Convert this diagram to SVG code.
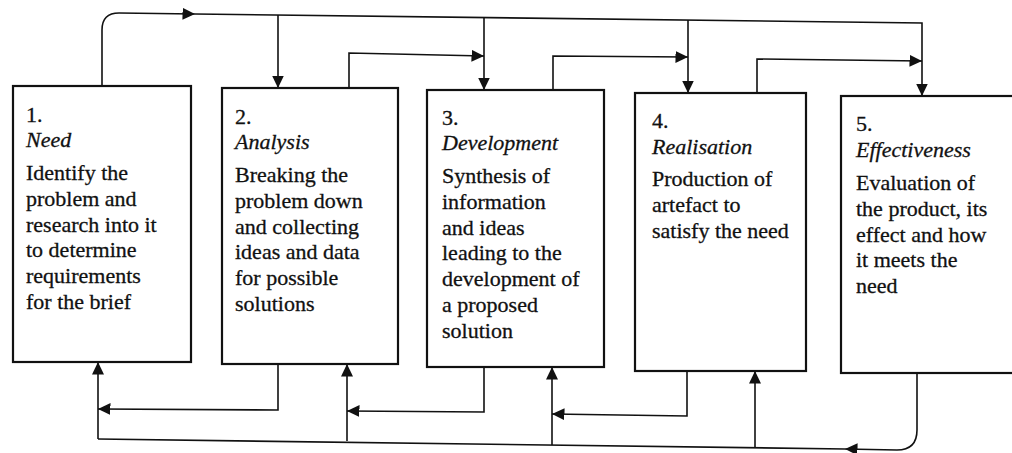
<svg xmlns="http://www.w3.org/2000/svg" width="1012" height="453" viewBox="0 0 1012 453">
<style>
.box{fill:#fff;stroke:#111;stroke-width:2.2}
.c{fill:none;stroke:#111;stroke-width:1.6;marker-end:url(#ah)}
.cn{fill:none;stroke:#111;stroke-width:1.6}
text{font-family:"Liberation Serif","Times New Roman",serif;font-size:22px;fill:#111;stroke:#111;stroke-width:0.3}
.t{font-style:italic}
</style>
<defs>
<marker id="ah" markerUnits="userSpaceOnUse" markerWidth="13" markerHeight="13" refX="12.5" refY="6.5" orient="auto">
<path d="M0,0.5 L12.5,6.5 L0,12.5 z" fill="#111"/>
</marker>
</defs>
<rect width="1012" height="453" fill="#fff"/>
<g id="connectors">
<path class="c" d="M102,86 V30 Q102,13 119,13 L195,14"/>
<path class="c" d="M195,14 L922,23 V96"/>
<path class="c" d="M278,15 V88"/>
<path class="c" d="M484,17.5 V90"/>
<path class="c" d="M688,20 V93"/>
<path class="c" d="M349,88 V53 L484,56"/>
<path class="c" d="M553,90 V56 L688,57"/>
<path class="c" d="M757,93 V59 L922,61"/>
<path class="c" d="M98,439 V362"/>
<path class="c" d="M278,364 V410 L98,409"/>
<path class="c" d="M347,441 V364"/>
<path class="c" d="M484,367 V412 L347,411"/>
<path class="c" d="M552,445 V367"/>
<path class="c" d="M687,371 V416 L552,414"/>
<path class="c" d="M755,447 V371"/>
<path class="c" d="M917,373 V430 Q917,450 897,450 L845,449"/>
<path class="cn" d="M845,449 L98,439"/>
</g>
<g id="node1">
<rect class="box" x="13" y="86" width="178" height="276"/>
<text x="26" y="122">1.</text>
<text class="t" x="26" y="147">Need</text>
<text x="26" y="180">Identify the<tspan x="26" dy="25.8">problem and</tspan><tspan x="26" dy="25.8">research into it</tspan><tspan x="26" dy="25.8">to determine</tspan><tspan x="26" dy="25.8">requirements</tspan><tspan x="26" dy="25.8">for the brief</tspan></text>
</g>
<g id="node2">
<rect class="box" x="222" y="88" width="176" height="276"/>
<text x="235" y="124">2.</text>
<text class="t" x="235" y="149">Analysis</text>
<text x="235" y="182">Breaking the<tspan x="235" dy="25.8">problem down</tspan><tspan x="235" dy="25.8">and collecting</tspan><tspan x="235" dy="25.8">ideas and data</tspan><tspan x="235" dy="25.8">for possible</tspan><tspan x="235" dy="25.8">solutions</tspan></text>
</g>
<g id="node3">
<rect class="box" x="427" y="90" width="177" height="277"/>
<text x="442" y="125">3.</text>
<text class="t" x="442" y="150">Development</text>
<text x="442" y="183">Synthesis of<tspan x="442" dy="25.8">information</tspan><tspan x="442" dy="25.8">and ideas</tspan><tspan x="442" dy="25.8">leading to the</tspan><tspan x="442" dy="25.8">development of</tspan><tspan x="442" dy="25.8">a proposed</tspan><tspan x="442" dy="25.8">solution</tspan></text>
</g>
<g id="node4">
<rect class="box" x="635" y="93" width="171" height="278"/>
<text x="652" y="128">4.</text>
<text class="t" x="652" y="154">Realisation</text>
<text x="652" y="186">Production of<tspan x="652" dy="25.8">artefact to</tspan><tspan x="652" dy="25.8">satisfy the need</tspan></text>
</g>
<g id="node5">
<rect class="box" x="841" y="96" width="190" height="277"/>
<text x="856" y="131">5.</text>
<text class="t" x="856" y="157">Effectiveness</text>
<text x="856" y="190">Evaluation of<tspan x="856" dy="25.8">the product, its</tspan><tspan x="856" dy="25.8">effect and how</tspan><tspan x="856" dy="25.8">it meets the</tspan><tspan x="856" dy="25.8">need</tspan></text>
</g>
</svg>
